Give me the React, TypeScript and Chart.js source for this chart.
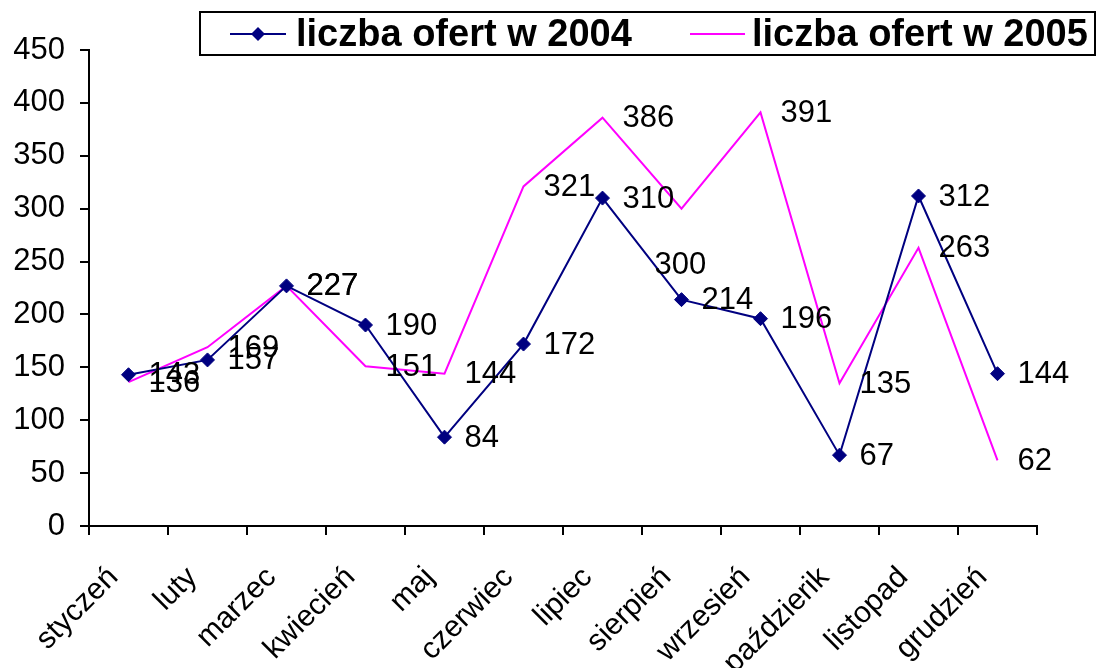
import React, { useEffect, useRef } from "react";
import { Chart, registerables } from "chart.js";

Chart.register(...registerables);

const categories = [
  "styczeń", "luty", "marzec", "kwiecień", "maj", "czerwiec",
  "lipiec", "sierpień", "wrzesień", "paździerik", "listopad", "grudzień",
];
const series2004 = [143, 157, 227, 190, 84, 172, 310, 214, 196, 67, 312, 144];
const series2005 = [136, 169, 227, 151, 144, 321, 386, 300, 391, 135, 263, 62];
const seriesNames = ["liczba ofert w 2004", "liczba ofert w 2005"];
const yTicks = [0, 50, 100, 150, 200, 250, 300, 350, 400, 450];

const FONT = "'Liberation Sans', Arial, sans-serif";
const NAVY = "#000080";
const MAGENTA = "#FF00FF";

// label placement tweaks (dataset index -> point index -> [dx, dy])
const labelOverrides: Record<number, Record<number, [number, number]>> = {
  1: { 7: [-47, 56] },
};

const dataLabelsPlugin = {
  id: "dataLabels",
  afterDatasetsDraw(chart: any) {
    const ctx = chart.ctx;
    ctx.save();
    ctx.font = `31px ${FONT}`;
    ctx.fillStyle = "#000";
    ctx.textAlign = "left";
    ctx.textBaseline = "middle";
    chart.data.datasets.forEach((ds: any, di: number) => {
      const meta = chart.getDatasetMeta(di);
      meta.data.forEach((pt: any, i: number) => {
        const ov = labelOverrides[di]?.[i] || [0, 0];
        ctx.fillText(String(ds.data[i]), pt.x + 20 + ov[0], pt.y + 1 + ov[1]);
      });
    });
    ctx.restore();
  },
};

const legendPlugin = {
  id: "customLegend",
  afterDraw(chart: any) {
    const ctx = chart.ctx;
    ctx.save();
    const x0 = 200, y0 = 12, x1 = 1095, y1 = 55;
    ctx.fillStyle = "#fff";
    ctx.fillRect(x0, y0, x1 - x0, y1 - y0);
    ctx.strokeStyle = "#000";
    ctx.lineWidth = 2;
    ctx.strokeRect(x0, y0, x1 - x0, y1 - y0);
    const cy = 34;
    // item 1
    ctx.strokeStyle = NAVY;
    ctx.lineWidth = 2;
    ctx.beginPath();
    ctx.moveTo(230, cy);
    ctx.lineTo(286, cy);
    ctx.stroke();
    ctx.fillStyle = NAVY;
    ctx.beginPath();
    ctx.moveTo(258, cy - 7);
    ctx.lineTo(265, cy);
    ctx.lineTo(258, cy + 7);
    ctx.lineTo(251, cy);
    ctx.closePath();
    ctx.fill();
    // item 2
    ctx.strokeStyle = MAGENTA;
    ctx.beginPath();
    ctx.moveTo(690, cy);
    ctx.lineTo(745, cy);
    ctx.stroke();
    ctx.fillStyle = "#000";
    ctx.font = `bold 38px ${FONT}`;
    ctx.textAlign = "left";
    ctx.textBaseline = "middle";
    ctx.fillText(seriesNames[0], 296, cy + 2);
    ctx.fillText(seriesNames[1], 752, cy + 2);
    ctx.restore();
  },
};

export default function App() {
  const ref = useRef<HTMLCanvasElement>(null);
  useEffect(() => {
    if (!ref.current) return;
    const chart = new Chart(ref.current, {
      type: "line",
      data: {
        labels: categories,
        datasets: [
          {
            label: seriesNames[0],
            data: series2004,
            borderColor: NAVY,
            backgroundColor: NAVY,
            borderWidth: 2,
            pointStyle: "rectRot",
            pointRadius: 7,
            pointBackgroundColor: NAVY,
            pointBorderColor: NAVY,
            pointBorderWidth: 1,
            tension: 0,
          },
          {
            label: seriesNames[1],
            data: series2005,
            borderColor: MAGENTA,
            backgroundColor: MAGENTA,
            borderWidth: 2,
            pointRadius: 0,
            tension: 0,
          },
        ],
      },
      options: {
        responsive: false,
        animation: false,
        layout: { padding: { left: 0, top: 50, right: 65, bottom: 0 } },
        plugins: {
          legend: { display: false },
          tooltip: { enabled: false },
        },
        scales: {
          x: {
            type: "category",
            offset: true,
            grid: {
              offset: true,
              drawOnChartArea: false,
              color: "#000",
              lineWidth: 2,
              tickLength: 9,
            },
            border: { color: "#000", width: 2 },
            ticks: {
              color: "#000",
              font: { family: FONT, size: 30 },
              minRotation: 45,
              maxRotation: 45,
              padding: 25,
              labelOffset: -15,
              autoSkip: false,
            },
            afterFit(scale: any) {
              scale.height = 142;
            },
          },
          y: {
            min: 0,
            max: 450,
            afterBuildTicks(scale: any) {
              scale.ticks = yTicks.map((v) => ({ value: v }));
            },
            grid: {
              drawOnChartArea: false,
              color: "#000",
              lineWidth: 2,
              tickLength: 9,
            },
            border: { color: "#000", width: 2 },
            ticks: {
              color: "#000",
              font: { family: FONT, size: 31 },
              padding: 15,
            },
            afterFit(scale: any) {
              scale.width = 89;
            },
          },
        },
      },
      plugins: [dataLabelsPlugin, legendPlugin],
    } as any);
    return () => chart.destroy();
  }, []);
  return (
    <div style={{ position: "absolute", left: 0, top: 0, width: 1102, height: 668, background: "#fff" }}>
      <canvas ref={ref} width={1102} height={668} />
    </div>
  );
}
